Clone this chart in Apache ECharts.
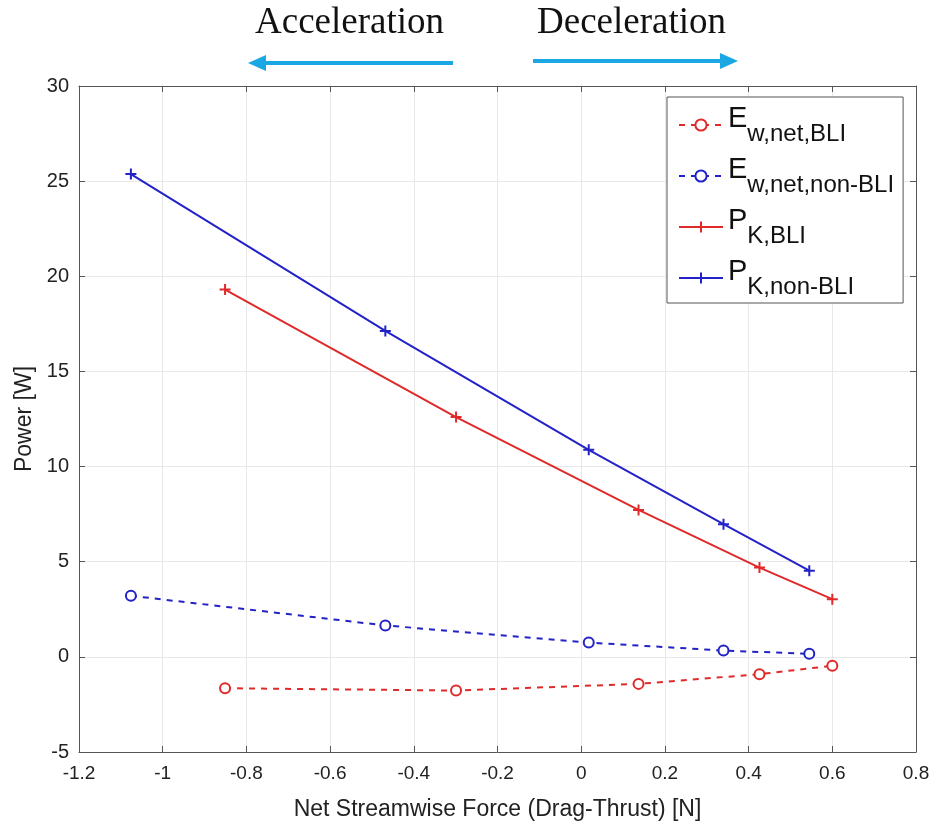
<!DOCTYPE html>
<html>
<head>
<meta charset="utf-8">
<script src="https://cdn.jsdelivr.net/npm/echarts@6/dist/echarts.min.js"></script>
<style>html,body{margin:0;padding:0;background:#fff}#c{width:934px;height:832px}</style>
</head>
<body>
<div id="c"></div>
<script>
// ---- data ----
const xBLI = [-0.851, -0.299, 0.137, 0.426, 0.600];
const xNonBLI = [-1.076, -0.468, 0.018, 0.340, 0.545];
const EwNetBLI = [-1.65, -1.77, -1.42, -0.91, -0.47];
const EwNetNonBLI = [3.21, 1.65, 0.75, 0.33, 0.16];
const PkBLI = [19.3, 12.60, 7.72, 4.69, 3.03];
const PkNonBLI = [25.37, 17.13, 10.88, 6.97, 4.53];
const seriesNames = ['E_w,net,BLI', 'E_w,net,non-BLI', 'P_K,BLI', 'P_K,non-BLI'];
const xTicks = [-1.2, -1, -0.8, -0.6, -0.4, -0.2, 0, 0.2, 0.4, 0.6, 0.8];
const yTicks = [-5, 0, 5, 10, 15, 20, 25, 30];

const RED = '#e02a2a', BLUE = '#2222c8';
const zip = (xs, ys) => xs.map((x, i) => [x, ys[i]]);
const plus = 'path://M0,5L10,5M5,0L5,10';
const font = 'Liberation Sans, Arial, sans-serif';
const pick = (ticks, v) => { const t = ticks.find(tk => Math.abs(tk - v) < 1e-9); return t === undefined ? '' : String(t); };

const chart = echarts.init(document.getElementById('c'), null, {renderer: 'canvas'});
const axisCommon = {
  splitLine: {show: true, lineStyle: {color: '#e8e8e8', width: 1}},
  axisLine: {show: true, onZero: false, lineStyle: {color: '#555', width: 1}},
  axisTick: {show: true, inside: true, length: 6, lineStyle: {color: '#555'}},
};
chart.setOption({
  animation: false,
  grid: {left: 79, right: 18, top: 86, bottom: 80, show: false},
  xAxis: [{
    type: 'value', min: -1.2, max: 0.8, interval: 0.2, ...axisCommon,
    axisLabel: {color: '#222', fontFamily: font, fontSize: 19, margin: 12, formatter: v => pick(xTicks, v)},
    name: 'Net Streamwise Force (Drag-Thrust) [N]', nameLocation: 'middle', nameGap: 46,
    nameTextStyle: {color: '#222', fontFamily: font, fontSize: 23}
  }, {
    type: 'value', position: 'top', min: -1.2, max: 0.8, interval: 0.2, ...axisCommon,
    splitLine: {show: false}, axisLabel: {show: false}
  }],
  yAxis: [{
    type: 'value', min: -5, max: 30, interval: 5, ...axisCommon,
    axisLabel: {color: '#222', fontFamily: font, fontSize: 20, margin: 10, formatter: v => pick(yTicks, v)},
    name: 'Power [W]', nameLocation: 'middle', nameGap: 38, nameRotate: 90,
    nameTextStyle: {color: '#222', fontFamily: font, fontSize: 23}
  }, {
    type: 'value', position: 'right', min: -5, max: 30, interval: 5, ...axisCommon,
    splitLine: {show: false}, axisLabel: {show: false}
  }],
  legend: {
    orient: 'vertical', left: 667, top: 97,
    backgroundColor: '#fff', borderColor: '#555', borderWidth: 1,
    padding: [7, 9, 4, 11], itemGap: 9, itemWidth: 44, itemHeight: 14,
    data: seriesNames,
    formatter: n => {
      const parts = n.split('_');
      return '{m|' + parts[0] + '}{s|' + parts[1] + '}';
    },
    textStyle: {
      rich: {
        m: {fontFamily: font, fontSize: 29, color: '#111', lineHeight: 42, verticalAlign: 'top', padding: [0, 0, 12, 0]},
        s: {fontFamily: font, fontSize: 24, color: '#111', lineHeight: 42, verticalAlign: 'bottom', padding: [12, 0, 0, 0]}
      }
    }
  },
  series: [
    {name: seriesNames[0], type: 'line', data: zip(xBLI, EwNetBLI), symbol: 'emptyCircle', symbolSize: 10,
     lineStyle: {color: RED, width: 2, type: [6, 6]}, itemStyle: {color: RED, borderColor: RED, borderWidth: 2}},
    {name: seriesNames[1], type: 'line', data: zip(xNonBLI, EwNetNonBLI), symbol: 'emptyCircle', symbolSize: 10,
     lineStyle: {color: BLUE, width: 2, type: [6, 6]}, itemStyle: {color: BLUE, borderColor: BLUE, borderWidth: 2}},
    {name: seriesNames[2], type: 'line', data: zip(xBLI, PkBLI), symbol: plus, symbolSize: 11,
     lineStyle: {color: RED, width: 2}, itemStyle: {color: 'rgba(0,0,0,0)', borderColor: RED, borderWidth: 2}},
    {name: seriesNames[3], type: 'line', data: zip(xNonBLI, PkNonBLI), symbol: plus, symbolSize: 11,
     lineStyle: {color: BLUE, width: 2}, itemStyle: {color: 'rgba(0,0,0,0)', borderColor: BLUE, borderWidth: 2}}
  ],
  graphic: [
    {type: 'text', left: 255, top: 5, style: {text: 'Acceleration', font: '37px "Liberation Serif", "Times New Roman", serif', fill: '#111'}},
    {type: 'text', left: 537, top: 5, style: {text: 'Deceleration', font: '37px "Liberation Serif", "Times New Roman", serif', fill: '#111'}},
    {type: 'line', shape: {x1: 453, y1: 63, x2: 262, y2: 63}, style: {stroke: '#1aa7e3', lineWidth: 4}},
    {type: 'polygon', shape: {points: [[248, 63], [266, 55], [266, 71]]}, style: {fill: '#1aa7e3'}},
    {type: 'line', shape: {x1: 533, y1: 61, x2: 724, y2: 61}, style: {stroke: '#1aa7e3', lineWidth: 4}},
    {type: 'polygon', shape: {points: [[738, 61], [720, 53], [720, 69]]}, style: {fill: '#1aa7e3'}}
  ]
});
</script>
</body>
</html>
